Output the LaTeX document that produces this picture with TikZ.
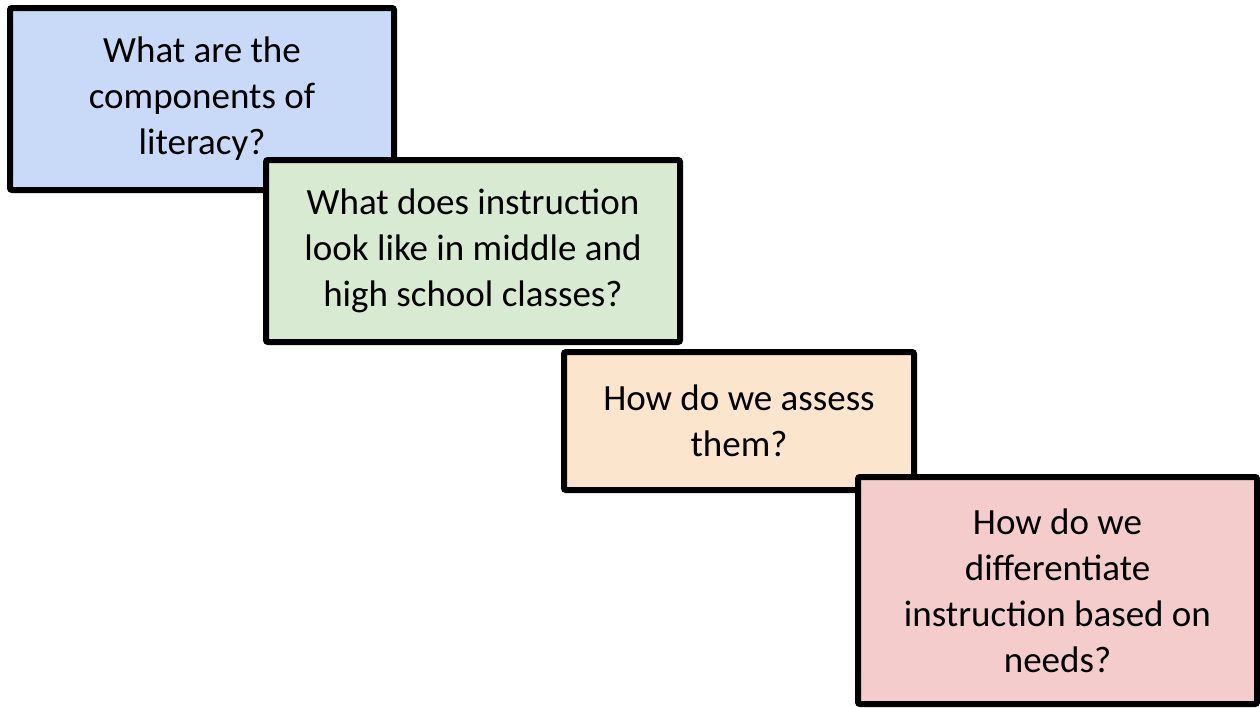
\documentclass[tikz,border=0pt]{standalone}
\usepackage{fontspec}
\setmainfont{Carlito}
\definecolor{cblue}{HTML}{C9DAF8}
\definecolor{cgreen}{HTML}{D9EAD3}
\definecolor{corange}{HTML}{FCE5CD}
\definecolor{cpink}{HTML}{F4CCCC}
\begin{document}
\begin{tikzpicture}[x=1pt,y=-1pt,
  qbox/.style={draw=black, line width=6pt, rounded corners=2pt, align=center,
    inner sep=0pt, font=\fontsize{37}{46}\selectfont}]
\useasboundingbox (0,0) rectangle (1260,707);
\node[qbox, fill=cblue, minimum width=384pt, minimum height=182pt] (q1) at (202,99)
  {What are the\\components of\\literacy?};
\node[qbox, fill=cgreen, minimum width=414pt, minimum height=182pt] (q2) at (473,251)
  {What does instruction\\look like in middle and\\high school classes?};
\node[qbox, fill=corange, minimum width=350pt, minimum height=138pt] (q3) at (739,421)
  {How do we assess\\them?};
\node[qbox, fill=cpink, minimum width=399pt, minimum height=227pt] (q4) at (1057.5,590.5)
  {How do we\\differentiate\\instruction based on\\needs?};
\end{tikzpicture}
\end{document}
